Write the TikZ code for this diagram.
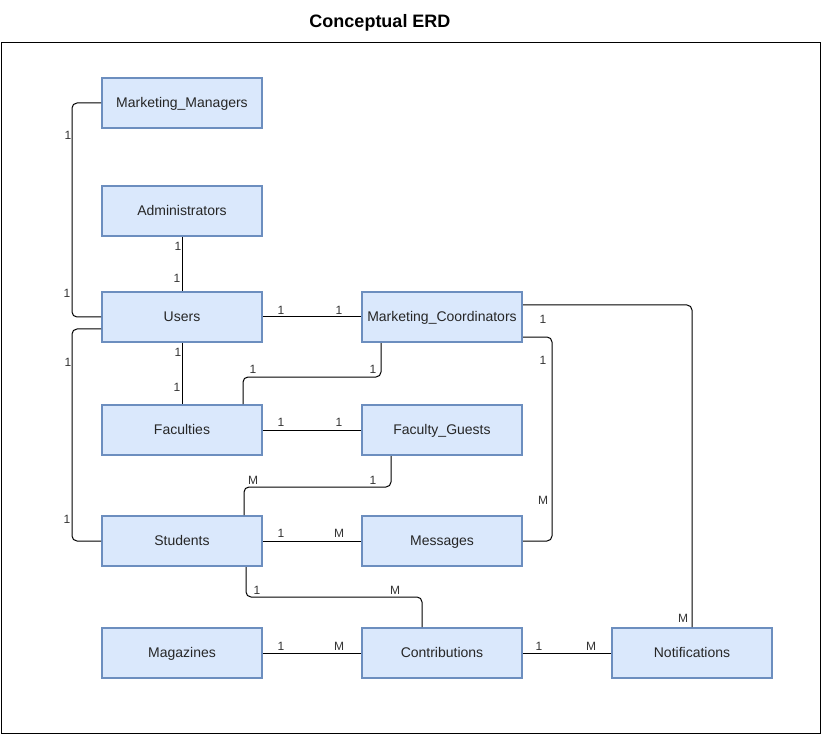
\documentclass[tikz,border=0pt]{standalone}
\usepackage{fontspec}
\setmainfont{Liberation Sans}
\definecolor{entfill}{HTML}{DAE8FC}
\definecolor{entline}{HTML}{6C8EBF}
\definecolor{cardtext}{HTML}{333333}
\begin{document}
\begin{tikzpicture}[x=0.75pt, y=-0.75pt, every node/.style={font=\fontsize{9}{11}\selectfont}]
\useasboundingbox (0,0) rectangle (821,734);
\node (title) at (380,23) {\bfseries\fontsize{13.5}{16}\selectfont Conceptual ERD};
\draw[line width=0.75pt] (1,43) rectangle (820,733);

\tikzset{every node/.style={draw=entline, fill=entfill, line width=1.5pt, minimum width=120pt, minimum height=37.5pt, inner sep=1.5pt, text height=2ex, text depth=0.6ex, text=black!85, font=\fontsize{10.5}{12}\selectfont}}
\node (MM) at (182,103) {Marketing\_Managers};
\node (Adm) at (182,211) {Administrators};
\node (Usr) at (182,317) {Users};
\node (MC) at (442,317) {Marketing\_Coordinators};
\node (Fac) at (182,430) {Faculties};
\node (FG) at (442,430) {Faculty\_Guests};
\node (Stu) at (182,541) {Students};
\node (Msg) at (442,541) {Messages};
\node (Mag) at (182,653) {Magazines};
\node (Con) at (442,653) {Contributions};
\node (Ntf) at (692,653) {Notifications};

\tikzset{every node/.style={text=cardtext, inner sep=1pt, font=\fontsize{9}{10}\selectfont}}
\tikzset{rel/.style={line width=0.75pt, rounded corners=3.75pt}}
% straight relations
\path (Adm) edge [rel] (Usr);
\path (Usr) edge [rel] (MC);
\path (Usr) edge [rel] (Fac);
\path (Fac) edge [rel] (FG);
\path (Stu) edge [rel] (Msg);
\path (Mag) edge [rel] (Con);
\path (Con) edge [rel] (Ntf);
% bent relations
\draw [rel] (MM.west) -- (72,103) -- (72,317) -- (Usr.west);
\draw [rel] ([yshift=-9pt]Usr.west) -- (72,329) -- (72,541) -- (Stu.west);
\draw [rel] ([xshift=-45.75pt]MC.south) -- (381,377) -- (243,377) -- ([xshift=45.75pt]Fac.north);
\draw [rel] ([xshift=-38.25pt]FG.south) -- (391,487) -- (244,487) -- ([xshift=46.5pt]Stu.north);
\draw [rel] ([yshift=-15pt]MC.east) -- (552,337) -- (552,541) -- (Msg.east);
\draw [rel] ([yshift=9pt]MC.east) -- (692,305) -- (Ntf.north);
\draw [rel] ([xshift=48pt]Stu.south) -- (246,597) -- (422,597) -- ([xshift=-15pt]Con.north);

% cardinalities
\node (c1) at (68,135) {1};   \node (c2) at (67,293) {1};
\node (c3) at (178,246) {1};  \node (c4) at (177,278) {1};
\node (c5) at (281,310) {1};  \node (c6) at (339,310) {1};
\node (c7) at (68,362) {1};   \node (c8) at (67,519) {1};
\node (c9) at (178,352) {1};  \node (c10) at (177,387) {1};
\node (c11) at (253,369) {1}; \node (c12) at (373,369) {1};
\node (c13) at (543,360) {1}; \node (c14) at (543,500) {M};
\node (c15) at (543,319) {1}; \node (c16) at (683,618) {M};
\node (c17) at (281,422) {1}; \node (c18) at (339,422) {1};
\node (c19) at (253,480) {M}; \node (c20) at (373,480) {1};
\node (c21) at (281,533) {1}; \node (c22) at (339,533) {M};
\node (c23) at (257,590) {1}; \node (c24) at (395,590) {M};
\node (c25) at (281,646) {1}; \node (c26) at (339,646) {M};
\node (c27) at (539,646) {1}; \node (c28) at (591,646) {M};
\end{tikzpicture}
\end{document}
